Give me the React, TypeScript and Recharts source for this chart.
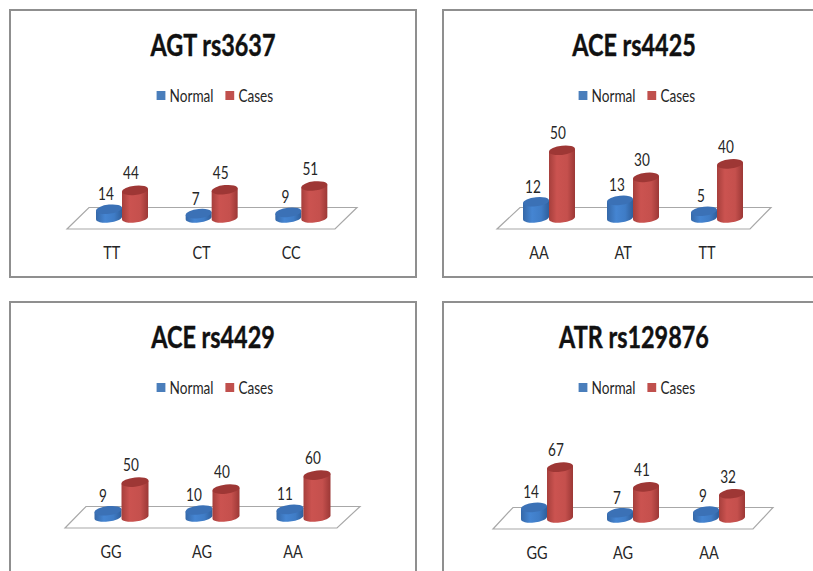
import { BarChart, Bar, XAxis, YAxis, Legend, LabelList, usePlotArea } from 'recharts'

const SERIES_NAMES = ['Normal', 'Cases']

const AGT_GENOTYPES = ['TT', 'CT', 'CC']
const AGT_NORMAL = [14, 7, 9]
const AGT_CASES = [44, 45, 51]

const ACE4425_GENOTYPES = ['AA', 'AT', 'TT']
const ACE4425_NORMAL = [12, 13, 5]
const ACE4425_CASES = [50, 30, 40]

const ACE4429_GENOTYPES = ['GG', 'AG', 'AA']
const ACE4429_NORMAL = [9, 10, 11]
const ACE4429_CASES = [50, 40, 60]

const ATR_GENOTYPES = ['GG', 'AG', 'AA']
const ATR_NORMAL = [14, 7, 9]
const ATR_CASES = [67, 41, 32]

const FONT = 'Lato, sans-serif'
const INK = '#262626'

// Narrowed text, squeezed around its own centre
const VALUE_STYLE = {
  fontFamily: FONT, fontSize: 17, fill: INK,
  transformBox: 'fill-box', transformOrigin: 'center', transform: 'scaleX(0.8)',
} as const
const TICK_STYLE = {
  transformBox: 'fill-box', transformOrigin: 'center', transform: 'scaleX(0.85)',
} as const

function toRows(genotypes: string[], normal: number[], cases: number[]) {
  return genotypes.map((genotype, i) => ({ genotype, normal: normal[i], cases: cases[i] }))
}

// Cylinder drawn from the rectangle the bar series hands over
function Cylinder(props: any) {
  const { x, y, width, height, body, cap } = props
  const rx = width / 2
  const ry = 4.6
  const cx = x + rx
  const base = y + height
  return (
    <g transform={`translate(${cx} ${base}) skewY(-6) translate(${-cx} ${-base})`}>
      <path
        d={`M${x} ${y} L${x} ${base} A${rx} ${ry} 0 0 0 ${x + width} ${base} L${x + width} ${y} Z`}
        fill={`url(#${body})`}
      />
      <ellipse cx={cx} cy={y} rx={rx} ry={ry} fill={cap} />
    </g>
  )
}

// Slanted floor plate under the bars
function Floor({ skew }: { skew: number[] }) {
  const plot = usePlotArea()
  if (!plot) return null
  const left = plot.x
  const right = plot.x + plot.width
  const base = plot.y + plot.height
  const points = [
    [left + skew[0], base + 11],
    [right + skew[1], base + 11],
    [right + skew[2], base - 10.5],
    [left + skew[3], base - 10.5],
  ]
  return <polygon points={points.map((p) => p.join(',')).join(' ')} fill="#fff" stroke="#a8a8a8" strokeWidth={1.2} />
}

function LegendRow({ payload }: any) {
  return (
    <div
      style={{
        display: 'flex', justifyContent: 'center', alignItems: 'center',
        fontFamily: FONT, fontSize: 17, color: INK, transform: 'scaleX(0.8)',
      }}
    >
      {(payload || []).map((entry: any, i: number) => (
        <span key={entry.value} style={{ display: 'flex', alignItems: 'center', marginLeft: i ? 15 : 0 }}>
          <span style={{ width: 11, height: 9, background: entry.color, marginRight: 5 }} />
          {entry.value}
        </span>
      ))}
    </div>
  )
}

function Panel({ title, rows, box, plot, yMax, skew, legendLeft, barSize = 26, normalDx = -3 }: any) {
  const [left, top, width, height] = box
  return (
    <div style={{ position: 'absolute', left, top, width, height, boxSizing: 'border-box', border: '2px solid #8f8f8f', background: '#fff' }}>
      <div
        style={{
          position: 'absolute', left: plot.titleX - 150, width: 300, top: 15, textAlign: 'center',
          fontFamily: FONT, fontWeight: 700, fontSize: 30, color: '#111', transform: 'scaleX(0.78)',
          WebkitTextStroke: '0.4px #111',
        }}
      >
        {title}
      </div>
      <BarChart
        width={width - 4}
        height={height - 4}
        data={rows}
        barGap={0}
        barSize={barSize}
        margin={{ top: plot.top, right: plot.right, bottom: plot.bottom, left: plot.left }}
        style={{ position: 'absolute', left: 0, top: 0 }}
      >
        <Floor skew={skew} />
        <XAxis
          dataKey="genotype"
          axisLine={false}
          tickLine={false}
          height={30}
          tickMargin={23}
          tick={{ fontFamily: FONT, fontSize: 17, fill: INK, dx: -10, style: TICK_STYLE }}
          interval={0}
        />
        <YAxis hide domain={[0, yMax]} />
        <Legend
          verticalAlign="middle"
          itemSorter={null}
          content={<LegendRow />}
          wrapperStyle={{ top: 74, left: legendLeft, width: 200, height: 20 }}
        />
        <Bar dataKey="normal" name={SERIES_NAMES[0]} fill="#4a7ebb" isAnimationActive={false} shape={<Cylinder body="blueBody" cap="#3b71b6" />}>
          <LabelList dataKey="normal" position="top" offset={9} dx={normalDx} style={VALUE_STYLE} />
        </Bar>
        <Bar dataKey="cases" name={SERIES_NAMES[1]} fill="#c0504d" isAnimationActive={false} shape={<Cylinder body="redBody" cap="#9e3735" />}>
          <LabelList dataKey="cases" position="top" offset={11} dx={-4} style={VALUE_STYLE} />
        </Bar>
      </BarChart>
    </div>
  )
}

export default function App() {
  return (
    <div style={{ position: 'absolute', left: 0, top: 0, width: 813, height: 571, overflow: 'hidden', background: '#fff' }}>
      <svg width={0} height={0} style={{ position: 'absolute' }}>
        <defs>
          <linearGradient id="blueBody" x1="0" y1="0" x2="1" y2="0">
            <stop offset="0" stopColor="#3568a8" />
            <stop offset="0.35" stopColor="#4585d2" />
            <stop offset="0.7" stopColor="#3f7cc6" />
            <stop offset="1" stopColor="#2f5f9c" />
          </linearGradient>
          <linearGradient id="redBody" x1="0" y1="0" x2="1" y2="0">
            <stop offset="0" stopColor="#a63f3c" />
            <stop offset="0.3" stopColor="#cb5350" />
            <stop offset="0.7" stopColor="#c5504d" />
            <stop offset="1" stopColor="#9c3836" />
          </linearGradient>
        </defs>
      </svg>
      <Panel
        title="AGT rs3637"
        rows={toRows(AGT_GENOTYPES, AGT_NORMAL, AGT_CASES)}
        box={[9, 9, 408, 269]}
        plot={{ top: 119, bottom: 28, left: 66, right: 69, titleX: 202 }}
        yMax={140}
        skew={[-10, -11, 11, 12]}
        legendLeft={104}
      />
      <Panel
        title="ACE rs4425"
        rows={toRows(ACE4425_GENOTYPES, ACE4425_NORMAL, ACE4425_CASES)}
        box={[442, 9, 400, 269]}
        plot={{ top: 119, bottom: 28, left: 63, right: 81, titleX: 190 }}
        yMax={65}
        skew={[-10, -9, 12, 13]}
        legendLeft={93}
      />
      <Panel
        title="ACE rs4429"
        rows={toRows(ACE4429_GENOTYPES, ACE4429_NORMAL, ACE4429_CASES)}
        box={[9, 301, 408, 280]}
        plot={{ top: 126, bottom: 32, left: 64.5, right: 66.5, titleX: 202 }}
        yMax={126}
        skew={[-10.5, -11.5, 11.5, 10.5]}
        legendLeft={104}
        barSize={27}
        normalDx={-5}
      />
      <Panel
        title="ATR rs129876"
        rows={toRows(ATR_GENOTYPES, ATR_NORMAL, ATR_CASES)}
        box={[442, 301, 400, 280]}
        plot={{ top: 127, bottom: 31, left: 60, right: 78, titleX: 190 }}
        yMax={116}
        skew={[-11, -9, 11, 9]}
        legendLeft={93}
      />
    </div>
  )
}
